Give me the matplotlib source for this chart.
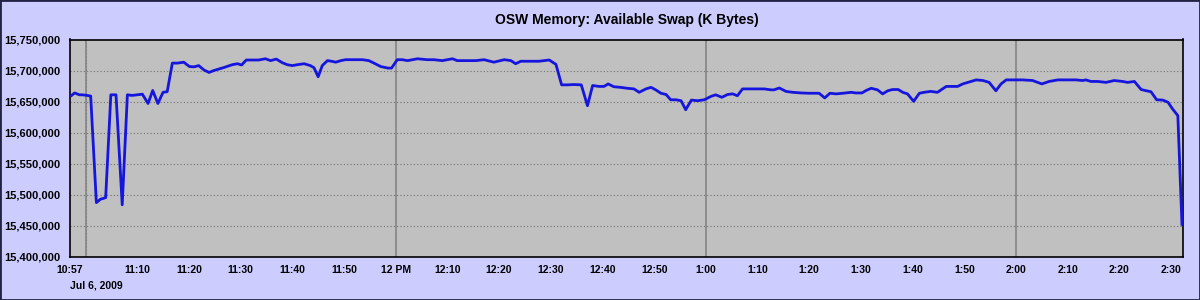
import matplotlib
matplotlib.use("Agg")
import matplotlib.pyplot as plt
import matplotlib.dates as mdates
from matplotlib.ticker import FixedLocator, FuncFormatter, MultipleLocator
from matplotlib.patches import Rectangle
from datetime import datetime, timedelta

# ---- data ----
start_time = datetime(2009, 7, 6, 10, 57)
end_minutes = 215.3
minutes_since_start = [
    0.3, 0.9, 1.8, 2.4, 3.3, 4.0, 5.1, 5.9, 6.9, 7.9, 8.9, 10.1, 11.1, 12.0, 13.0, 14.0,
    15.1, 16.0, 17.0, 18.0, 18.8, 19.8, 20.8, 22.0, 23.1, 24.0, 24.9, 25.9, 26.9, 27.8,
    28.8, 29.8, 31.4, 32.4, 33.2, 34.1, 35.3, 36.5, 37.8, 38.8, 39.9, 41.1, 42.0, 43.0,
    44.0, 45.3, 46.5, 47.2, 48.0, 48.8, 49.8, 50.6, 51.4, 52.4, 53.3, 54.9, 56.6, 57.8,
    58.8, 60.1, 61.5, 62.2, 63.3, 64.3, 65.3, 67.2, 69.1, 70.4, 72.0, 74.0, 74.9, 76.5,
    78.5, 80.1, 82.0, 84.0, 85.3, 86.2, 87.2, 88.8, 90.7, 92.7, 94.0, 95.1, 96.2, 97.5,
    98.9, 100.1, 101.1, 102.3, 103.3, 104.1, 105.2, 106.5, 107.8, 109.1, 110.1, 111.4,
    112.4, 113.3, 114.3, 115.3, 116.2, 117.2, 118.2, 119.1, 120.2, 121.4, 122.7, 124.0,
    124.9, 126.1, 127.2, 128.2, 129.1, 130.1, 131.4, 133.0, 134.3, 135.6, 136.2, 137.2,
    138.5, 139.8, 141.4, 143.0, 144.9, 146.0, 147.0, 148.2, 149.5, 151.1, 152.0, 153.2,
    154.0, 155.0, 156.2, 157.2, 158.2, 159.1, 160.2, 161.1, 162.0, 163.2, 164.3, 165.2,
    166.5, 167.8, 168.5, 169.5, 170.4, 171.7, 172.7, 173.7, 175.3, 176.6, 177.8, 179.1,
    180.1, 181.1, 182.7, 184.3, 186.2, 188.0, 189.4, 191.1, 193.0, 194.6, 195.9, 196.5,
    197.5, 198.8, 200.4, 202.0, 203.6, 204.6, 205.9, 207.2, 208.2, 209.1, 210.2, 211.4,
    212.4, 213.3, 214.3, 215.1,
]
available_swap_kb = [
    15660000, 15664000, 15661000, 15661000, 15660000, 15659000, 15487500, 15493000,
    15495500, 15661000, 15661000, 15484000, 15661000, 15660000, 15661000, 15662000,
    15647000, 15668000, 15647000, 15665000, 15666000, 15712000, 15712000, 15713500,
    15706500, 15706000, 15708000, 15701000, 15697000, 15700000, 15702500, 15705000,
    15709500, 15711000, 15709000, 15717000, 15717000, 15717000, 15719000, 15716000,
    15718500, 15712500, 15709500, 15708000, 15709500, 15711000, 15708000, 15704500,
    15690000, 15708000, 15716000, 15715000, 15713500, 15716000, 15717500, 15717500,
    15717500, 15716000, 15712000, 15706500, 15704000, 15704000, 15717500, 15717500,
    15716000, 15719000, 15717500, 15717500, 15716000, 15719000, 15716000, 15716000,
    15716000, 15717500, 15713500, 15717500, 15716000, 15711000, 15715000, 15715000,
    15715000, 15717000, 15710000, 15677000, 15677000, 15677500, 15677000, 15643500,
    15676000, 15674500, 15674500, 15678500, 15674000, 15673000, 15671500, 15670500,
    15665000, 15670500, 15673000, 15669000, 15663500, 15661500, 15653000, 15653000,
    15651500, 15637000, 15652500, 15651500, 15653000, 15658500, 15661000, 15657000,
    15661500, 15662500, 15659500, 15670500, 15670500, 15670500, 15670500, 15669000,
    15669000, 15672000, 15666500, 15665000, 15664000, 15663500, 15663500, 15656000,
    15663500, 15662500, 15663500, 15665000, 15664000, 15664000, 15668000, 15671500,
    15669000, 15662500, 15667500, 15669500, 15669500, 15665000, 15662500, 15650500,
    15663500, 15665000, 15666500, 15665000, 15669000, 15674500, 15674500, 15674500,
    15678500, 15681000, 15685000, 15684000, 15681000, 15667500, 15678500, 15685000,
    15685000, 15685000, 15684000, 15678500, 15682500, 15685000, 15685000, 15685000,
    15684000, 15685000, 15682500, 15682500, 15681000, 15684000, 15682500, 15681000,
    15682500, 15669500, 15667500, 15666000, 15653000, 15652500, 15649000, 15638000,
    15627500, 15452500,
]
tick_times = ["10:57", "11:10", "11:20", "11:30", "11:40", "11:50", "12:00", "12:10",
              "12:20", "12:30", "12:40", "12:50", "13:00", "13:10", "13:20", "13:30",
              "13:40", "13:50", "14:00", "14:10", "14:20", "14:30"]
tick_labels = ["10:57", "11:10", "11:20", "11:30", "11:40", "11:50", "12 PM", "12:10",
               "12:20", "12:30", "12:40", "12:50", "1:00", "1:10", "1:20", "1:30",
               "1:40", "1:50", "2:00", "2:10", "2:20", "2:30"]
date_label = "Jul 6, 2009"
title = "OSW Memory: Available Swap (K Bytes)"
y_min, y_max, y_step = 15400000, 15750000, 50000

# ---- build ----
times = [start_time + timedelta(minutes=m) for m in minutes_since_start]
def at(hhmm):
    h, m = map(int, hhmm.split(":"))
    return start_time.replace(hour=h, minute=m)
tick_pos = [mdates.date2num(at(t)) for t in tick_times]

plt.rcParams['font.family'] = ['Liberation Sans', 'DejaVu Sans']
fig = plt.figure(figsize=(12, 3), dpi=100, facecolor='#CCCCFF')
ax = fig.add_axes([70/1200, 1-257/300, 1113/1200, (257-39.5)/300])
ax.set_facecolor('#C0C0C0')

ax.set_xlim(start_time, start_time + timedelta(minutes=end_minutes))
ax.set_ylim(y_min, y_max)

# gridlines
ax.xaxis.set_minor_locator(mdates.MinuteLocator(byminute=range(0, 60, 10)))
ax.yaxis.set_major_locator(MultipleLocator(y_step))
ax.grid(which='minor', axis='x', color='#707070', linestyle=(0, (1, 2)), linewidth=0.8)
ax.grid(which='major', axis='y', color='#707070', linestyle=(0, (1, 2)), linewidth=0.8)
for h in (11, 12, 13, 14):
    ax.axvline(start_time.replace(hour=h, minute=0), color='#808080', linewidth=1.1, zorder=1)
ax.set_axisbelow(True)

ax.xaxis.set_major_locator(FixedLocator(tick_pos))
ax.xaxis.set_major_formatter(FuncFormatter(lambda v, p: tick_labels[p] if p is not None and p < len(tick_labels) else ""))
ax.set_xticks(tick_pos)
ax.set_xticklabels(tick_labels)
ax.yaxis.set_major_formatter(FuncFormatter(lambda v, p: f"{v:,.0f}"))

ax.tick_params(axis='both', which='both', length=0)
ax.tick_params(axis='x', pad=6, labelsize=7.5)
ax.tick_params(axis='y', pad=7, labelsize=8)
for lab in ax.get_xticklabels() + ax.get_yticklabels():
    lab.set_fontweight('bold')

for s in ax.spines.values():
    s.set_color('black')
    s.set_linewidth(1.2)

ax.plot(times, available_swap_kb, color='#1515DD', linewidth=2.0, zorder=3)

fig.text(70/1200, 1-285/300, date_label, fontsize=7.5, fontweight='bold', ha='left', va='center')
fig.text(626.5/1200, 1-20/300, title, fontsize=10, fontweight='bold', ha='center', va='center')

fig.add_artist(Rectangle((0, 0), 1, 1, transform=fig.transFigure, fill=False,
                         edgecolor='#222244', linewidth=2))

fig.savefig("out.png", dpi=100, facecolor=fig.get_facecolor())
